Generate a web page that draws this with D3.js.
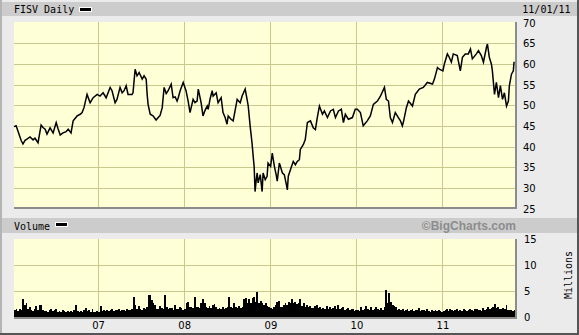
<!DOCTYPE html>
<html><head><meta charset="utf-8">
<script src="https://cdn.jsdelivr.net/npm/d3@7"></script>
<style>html,body{margin:0;padding:0;background:#ebebeb;}svg{display:block}</style>
</head><body><svg id="c" width="579" height="335"></svg>
<script>
// ---------- DATA ----------
const priceDates = [
"2006-01-09","2006-01-18","2006-01-26","2006-02-08","2006-02-16","2006-02-25","2006-03-05","2006-03-18","2006-03-31","2006-04-08","2006-04-21","2006-05-04","2006-05-12","2006-05-21","2006-05-29","2006-06-11","2006-06-24","2006-07-07","2006-07-15","2006-07-24","2006-08-05","2006-08-18","2006-08-27","2006-09-08","2006-09-17","2006-10-04","2006-10-17","2006-10-25","2006-11-02","2006-11-15","2006-11-28","2006-12-11","2006-12-28",
"2007-01-09","2007-01-22","2007-02-04","2007-02-21","2007-03-01","2007-03-14","2007-03-22","2007-04-04","2007-04-13","2007-04-21","2007-04-30","2007-05-08","2007-05-25","2007-05-29","2007-06-07","2007-06-15","2007-06-24","2007-07-07","2007-07-15","2007-07-24","2007-07-28","2007-08-01","2007-08-10","2007-08-22","2007-09-04","2007-09-13","2007-09-21","2007-09-30","2007-10-08","2007-10-17","2007-10-25","2007-11-07","2007-11-15","2007-11-24","2007-12-02","2007-12-07","2007-12-15","2007-12-28",
"2008-01-09","2008-01-18","2008-01-26","2008-02-08","2008-02-16","2008-02-25","2008-03-01","2008-03-13","2008-03-21","2008-03-30","2008-04-08","2008-04-12","2008-04-20","2008-04-29","2008-05-03","2008-05-16","2008-05-24","2008-06-06","2008-06-14","2008-06-23","2008-07-01","2008-07-06","2008-07-18","2008-07-27","2008-08-04","2008-08-13","2008-08-26","2008-09-03","2008-09-16","2008-09-24","2008-09-29","2008-10-07","2008-10-15","2008-10-20","2008-10-24","2008-10-28","2008-11-02","2008-11-06","2008-11-10","2008-11-19","2008-11-27","2008-12-01","2008-12-10","2008-12-18","2008-12-22",
"2009-01-02","2009-01-09","2009-01-18","2009-01-26","2009-01-30","2009-02-08","2009-02-21","2009-03-01","2009-03-09","2009-03-14","2009-03-18","2009-03-27","2009-04-08","2009-04-17","2009-04-25","2009-05-04","2009-05-08","2009-05-21","2009-05-29","2009-06-07","2009-06-20","2009-07-02","2009-07-11","2009-07-19","2009-07-28","2009-08-10","2009-08-18","2009-08-31","2009-09-13","2009-09-25","2009-10-04","2009-10-17","2009-10-29","2009-11-07","2009-11-15","2009-11-28","2009-12-15","2009-12-27",
"2010-01-05","2010-01-18","2010-01-30","2010-02-16","2010-03-01","2010-03-14","2010-03-31","2010-04-13","2010-04-30","2010-05-08","2010-05-17","2010-05-25","2010-06-03","2010-06-15","2010-06-28","2010-07-07","2010-07-15","2010-07-19","2010-08-01","2010-08-10","2010-08-27","2010-09-08","2010-09-25","2010-10-12","2010-10-29","2010-11-20","2010-11-28","2010-12-11","2010-12-19",
"2011-01-03","2011-01-09","2011-01-22","2011-01-30","2011-02-08","2011-02-16","2011-03-05","2011-03-18","2011-03-27","2011-04-08","2011-04-21","2011-04-30","2011-05-08","2011-05-25","2011-06-03","2011-06-15","2011-06-24","2011-07-07","2011-07-11","2011-07-19","2011-07-28","2011-08-01","2011-08-10","2011-08-18","2011-08-27","2011-09-04","2011-09-13","2011-09-21","2011-09-30","2011-10-08","2011-10-12","2011-10-21","2011-10-29","2011-11-01"];
const priceValues = [
44.8,45.0,43.7,41.5,40.6,41.5,41.8,42.3,41.6,42.0,40.9,45.2,44.6,44.2,43.0,44.5,43.3,45.8,44.3,42.8,43.3,43.6,44.2,43.3,46.2,47.4,47.8,48.2,49.4,52.6,50.6,51.8,52.6,
52.2,53.0,51.8,54.3,53.5,50.6,51.4,54.3,53.0,53.5,54.7,52.6,52.6,53.0,58.7,57.1,57.9,56.3,57.1,56.3,52.6,50.2,47.8,47.4,46.4,47.0,47.5,49.4,54.3,52.8,53.5,55.1,51.8,52.0,51.0,51.8,53.5,55.5,
53.5,51.0,48.2,51.4,50.6,51.0,53.9,50.6,47.4,48.8,49.8,49.0,51.5,53.5,52.2,53.0,50.6,51.8,48.2,47.0,45.4,47.4,46.6,46.2,48.6,51.4,50.6,52.2,53.9,51.4,49.8,45.0,40.9,37.6,35.2,29.1,32.0,33.6,31.2,33.2,29.1,33.6,32.0,32.8,36.0,
35.2,38.4,35.2,33.0,31.6,36.0,33.6,33.2,31.0,29.5,32.8,34.4,36.4,35.6,36.4,36.8,39.3,40.5,41.7,45.8,46.2,44.5,44.1,47.0,49.8,47.8,48.6,47.0,48.6,49.0,47.0,48.6,49.0,45.8,47.8,46.6,47.0,49.0,
49.0,48.2,45.0,46.2,47.4,50.2,51.0,52.2,54.3,51.4,51.0,47.0,45.8,48.2,47.0,46.2,45.0,45.8,49.4,51.0,49.8,52.6,53.9,54.3,55.5,55.1,56.3,59.1,58.7,
58.3,59.9,62.4,61.6,60.4,62.4,62.0,58.3,61.6,62.4,62.4,63.6,61.2,62.4,63.2,62.0,60.4,64.0,64.8,61.6,59.9,58.3,52.6,55.5,51.8,54.7,51.4,53.0,49.8,51.0,54.7,57.5,58.3,60.5];

// weekly volume (millions), weeks starting 2006-01-09
const volumeStart = "2006-01-09";
const vol2006 = [1.3,1.5,1.2,1.6,1.4,3.4,2.3,2.6,1.6,1.9,1.3,1.2,1.5,2.1,1.4,2.3,2.4,1.3,1.1,1.2,1.0,1.4,1.6,1.1,1.3,1.5,1.0,1.2,1.0,1.4,1.1,1.0,1.2,0.9,1.1,1.0,1.3,2.3,1.1,1.0,1.2,1.0,1.4,1.8,1.1,1.3,1.0,1.5,1.0,0.9,1.1,1.0];
const vol2007 = [2.1,1.2,1.3,1.1,1.4,1.2,1.3,1.6,1.2,1.4,1.3,1.6,1.2,1.4,1.3,1.2,1.6,1.4,1.3,1.5,3.9,2.3,1.6,2.1,1.5,1.3,1.7,1.5,2.0,4.2,4.2,3.2,2.6,2.3,1.6,1.5,2.1,1.7,1.6,4.2,2.0,1.6,1.8,1.7,1.4,2.3,1.6,1.5,2.0,1.7,1.3,1.5];
const vol2008 = [2.6,2.9,2.0,2.0,1.7,3.9,1.9,2.0,1.7,2.6,3.4,2.6,1.9,1.7,2.1,1.7,2.3,2.5,2.0,1.5,1.7,1.5,1.9,1.5,1.7,2.0,3.9,2.0,1.7,2.6,1.9,1.7,2.1,1.7,2.0,3.4,3.6,2.6,3.4,2.6,3.6,3.9,2.9,4.9,2.6,3.1,2.6,2.3,2.6,2.1,2.0,1.7];
const vol2009 = [1.6,1.9,2.4,2.9,3.0,2.0,1.9,2.3,2.6,2.4,2.9,2.7,3.4,2.6,2.9,2.5,2.6,3.4,2.2,2.6,2.0,2.3,1.9,2.1,1.7,1.8,2.2,2.3,1.7,1.9,1.6,1.8,1.5,2.1,1.6,1.9,1.5,1.7,2.1,1.6,2.3,1.5,1.7,2.0,1.4,1.5,1.7,1.3,1.6,1.5,1.2,1.4];
const vol2010 = [1.3,1.2,2.0,1.4,1.6,2.1,1.5,1.3,1.9,1.4,1.6,2.0,1.5,1.3,1.7,1.4,2.0,5.2,2.6,4.7,2.8,2.4,2.1,1.9,1.4,1.5,1.3,1.5,1.2,1.4,1.5,1.2,1.3,1.6,1.2,1.4,1.3,1.8,1.2,1.4,1.3,1.1,1.5,1.2,1.0,1.3,1.2,1.4,1.1,1.3,1.2,1.0];
const vol2011 = [1.2,1.3,1.5,1.2,1.6,1.4,1.2,1.3,1.6,1.2,1.4,1.1,1.5,1.3,1.2,1.4,1.6,1.3,1.2,1.5,1.6,1.3,1.4,1.2,1.8,1.4,1.5,2.0,1.6,1.7,1.9,2.5,1.8,1.9,1.5,1.6,1.7,1.5,2.3,1.4,1.3,1.4,1.2,1.3];

const priceTicks = [30,35,40,45,50,55,60,65];
const priceTickLabels = [25,30,35,40,45,50,55,60,65,70];
const volTicks = [5,10];
const volTickLabels = [0,5,10,15];
const yearTicks = ["2007-01-01","2008-01-01","2009-01-01","2010-01-01","2011-01-01"];
const yearLabels = ["07","08","09","10","11"];
const titleText = "FISV Daily";
const dateText = "11/01/11";

// ---------- BUILD ----------
const parse = d3.timeParse("%Y-%m-%d");
const price = priceDates.map((d,i)=>({date:parse(d), value:priceValues[i]}));
const volValues = [].concat(vol2006,vol2007,vol2008,vol2009,vol2010,vol2011);
const v0 = parse(volumeStart);
const volume = volValues.map((v,i)=>({date:d3.timeMonday.offset(v0,i), next:d3.timeMonday.offset(v0,i+1), value:v}));

const svg = d3.select("#c");
const W=579,H=335;
const PL=14, PR=515, PT=22, PB=207, VT=239, VB=317;
const grid="#c9c98f";

const x = d3.scaleTime().domain([parse("2006-01-09"), parse("2011-11-05")]).range([PL,PR]);
const y = d3.scaleLinear().domain([25,70]).range([208.5,22.5]);
const yv = d3.scaleLinear().domain([0,15]).range([VB,VT]);

// background & frame
svg.append("rect").attr("width",W).attr("height",H).attr("fill","#ebebeb");
svg.append("rect").attr("x",0).attr("y",0).attr("width",2).attr("height",H).attr("fill","#b4b4b4");
svg.append("rect").attr("x",W-2).attr("y",0).attr("width",2).attr("height",H).attr("fill","#555");
svg.append("rect").attr("x",0).attr("y",H-2).attr("width",W).attr("height",2).attr("fill","#555");
svg.append("rect").attr("x",2).attr("y",2).attr("width",W-4).attr("height",14).attr("fill","#cccccc");
svg.append("rect").attr("x",2).attr("y",218).attr("width",W-4).attr("height",15).attr("fill","#cccccc");

const defs = svg.append("defs");
const pat = defs.append("pattern").attr("id","dots").attr("width",2).attr("height",2).attr("patternUnits","userSpaceOnUse");
pat.append("rect").attr("width",2).attr("height",2).attr("fill","#ffffc8");
pat.append("rect").attr("x",0).attr("y",0).attr("width",1).attr("height",1).attr("fill","#ffffe6");
pat.append("rect").attr("x",1).attr("y",1).attr("width",1).attr("height",1).attr("fill","#ffffe6");

function panel(top,bottom){
  svg.append("rect").attr("x",PL).attr("y",top).attr("width",PR-PL).attr("height",bottom-top).attr("fill","url(#dots)");
}
panel(PT,PB); panel(VT,VB);

const g = svg.append("g").attr("shape-rendering","crispEdges");
yearTicks.forEach(t=>{
  const xx = Math.round(x(parse(t)))+0.5;
  g.append("line").attr("x1",xx).attr("x2",xx).attr("y1",PT).attr("y2",PB).attr("stroke",grid);
  g.append("line").attr("x1",xx).attr("x2",xx).attr("y1",VT).attr("y2",VB).attr("stroke",grid);
});
priceTicks.forEach(v=>{
  const yy = Math.round(y(v))+0.5;
  g.append("line").attr("x1",PL).attr("x2",PR).attr("y1",yy).attr("y2",yy).attr("stroke",grid);
});
volTicks.forEach(v=>{
  const yy = Math.round(yv(v))+0.5;
  g.append("line").attr("x1",PL).attr("x2",PR).attr("y1",yy).attr("y2",yy).attr("stroke",grid);
});

g.selectAll(".vb").data(volume).join("rect")
  .attr("x",d=>x(d.date)).attr("width",d=>Math.max(1,x(d.next)-x(d.date)+0.2))
  .attr("y",d=>yv(d.value)).attr("height",d=>VB-yv(d.value)).attr("fill","#000");

svg.append("path").datum(price)
  .attr("d",d3.line().x(d=>x(d.date)).y(d=>y(d.value)))
  .attr("fill","none").attr("stroke","#000").attr("stroke-width",1.5).attr("stroke-linejoin","miter");

svg.append("rect").attr("x",PR).attr("y",PT).attr("width",2).attr("height",PB-PT+2).attr("fill","#8c8c8c");
svg.append("rect").attr("x",PL).attr("y",PB).attr("width",PR-PL+2).attr("height",2).attr("fill","#8c8c8c");
svg.append("rect").attr("x",PR).attr("y",VT).attr("width",2).attr("height",VB-VT+2).attr("fill","#8c8c8c");
svg.append("rect").attr("x",PL).attr("y",VB).attr("width",PR-PL+2).attr("height",2).attr("fill","#8c8c8c");

const mono = "'DejaVu Sans Mono', monospace";
const sans = "'DejaVu Sans', sans-serif";
svg.append("text").attr("x",14).attr("y",13).attr("font-family",mono).attr("font-size",10).attr("fill","#000").text(titleText);
svg.append("rect").attr("x",79).attr("y",7).attr("width",13).attr("height",5).attr("fill","#fff");
svg.append("rect").attr("x",80).attr("y",8).attr("width",11).attr("height",3).attr("fill","#000");
svg.append("text").attr("x",570.5).attr("y",13).attr("text-anchor","end").attr("font-family",mono).attr("font-size",10).attr("fill","#000").text(dateText);

svg.append("text").attr("x",14).attr("y",229.5).attr("font-family",mono).attr("font-size",10).attr("fill","#000").text("Volume");
svg.append("rect").attr("x",55).attr("y",222).attr("width",13).attr("height",5).attr("fill","#fff");
svg.append("rect").attr("x",56).attr("y",223).attr("width",11).attr("height",3).attr("fill","#000");
svg.append("text").attr("x",516).attr("y",229.5).attr("text-anchor","end").attr("font-family","'Liberation Sans', Arial, sans-serif").attr("font-weight","bold").attr("font-size",12).attr("fill","#8c8c8c").text("\u00A9BigCharts.com");

priceTickLabels.forEach(v=>{
  svg.append("text").attr("x",523).attr("y",y(v)+4).attr("font-family",sans).attr("font-size",10).attr("fill","#000").text(v);
});
volTickLabels.forEach(v=>{
  svg.append("text").attr("x",524).attr("y",yv(v)+3.8).attr("font-family",sans).attr("font-size",10).attr("fill","#000").text(v);
});
yearTicks.forEach((t,i)=>{
  svg.append("text").attr("x",x(parse(t))+0.5).attr("y",328.5).attr("text-anchor","middle").attr("font-family",sans).attr("font-size",10).attr("fill","#000").text(yearLabels[i]);
});
svg.append("text").attr("transform","translate(572,275) rotate(-90)").attr("text-anchor","middle").attr("font-family",mono).attr("font-size",10).attr("fill","#000").text("Millions");
</script></body></html>
